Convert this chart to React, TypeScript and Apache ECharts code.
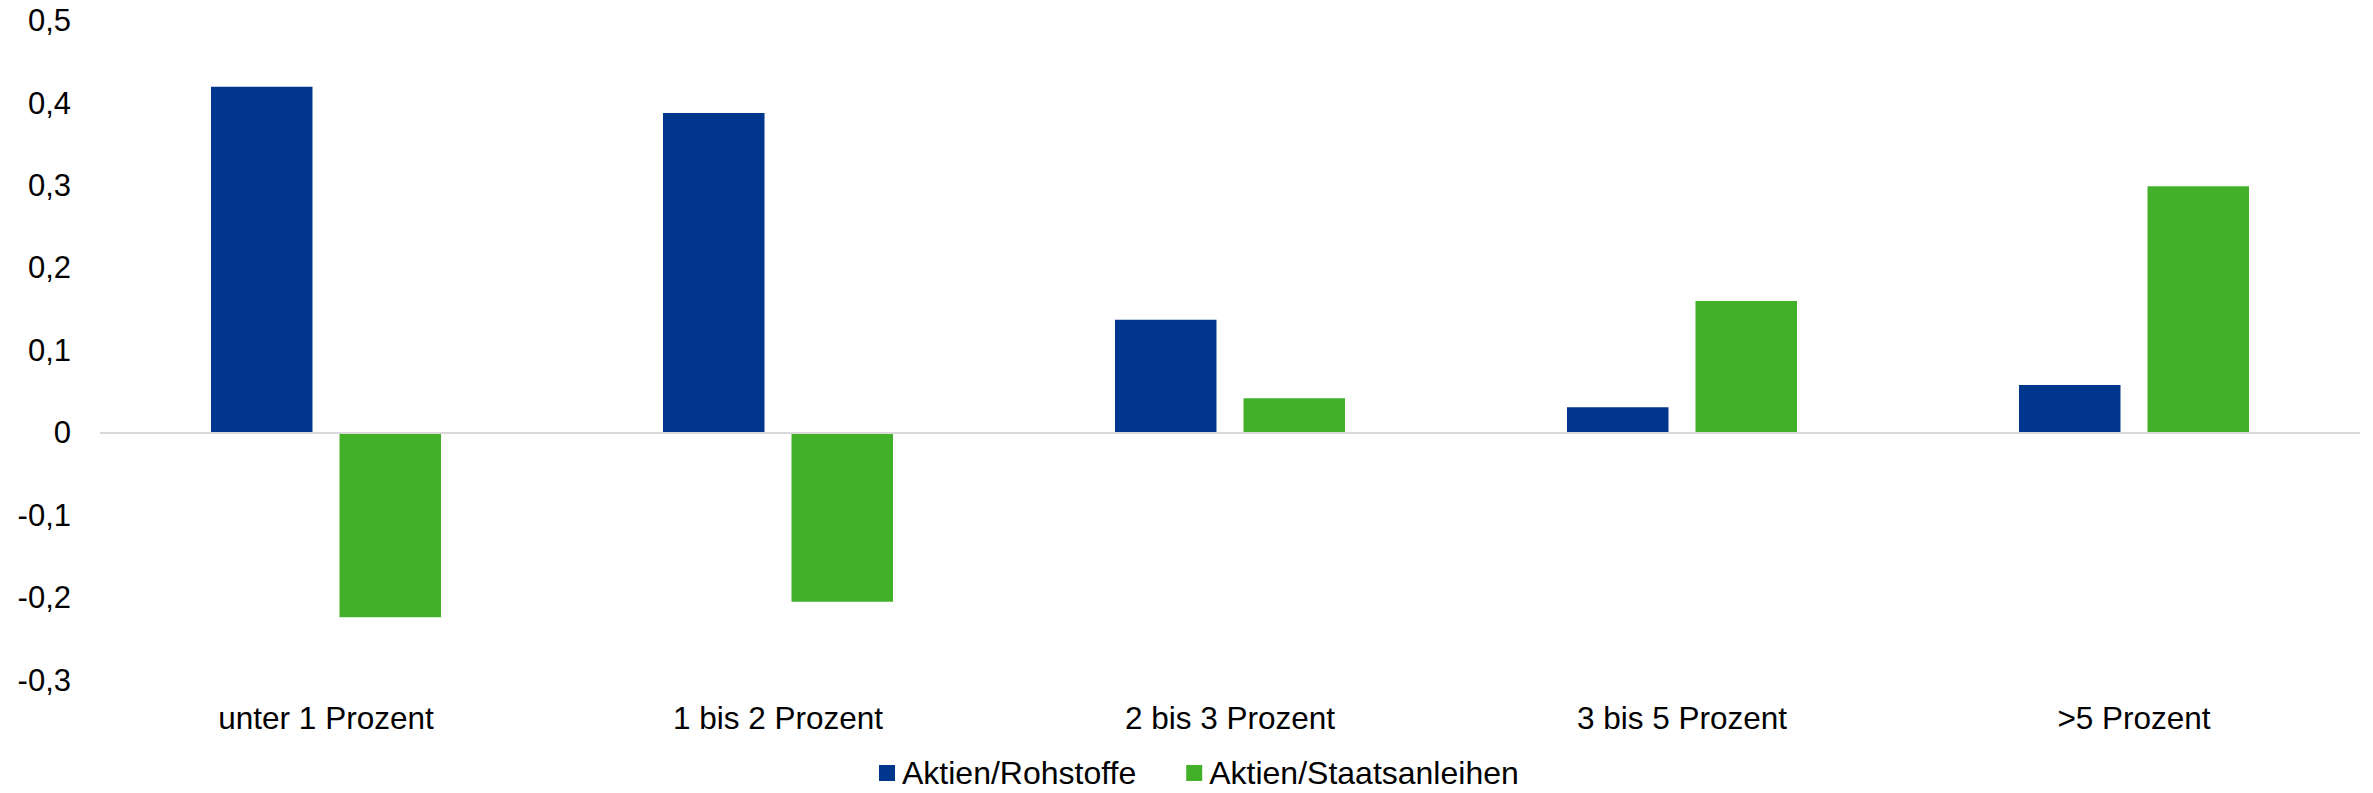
import React, { useEffect, useRef } from "react";
import * as echarts from "echarts";

const categories = ["unter 1 Prozent", "1 bis 2 Prozent", "2 bis 3 Prozent", "3 bis 5 Prozent", ">5 Prozent"];
const aktienRohstoffe = [0.42, 0.388, 0.137, 0.031, 0.058];
const aktienStaatsanleihen = [-0.224, -0.205, 0.042, 0.16, 0.299];
const seriesNames = ["Aktien/Rohstoffe", "Aktien/Staatsanleihen"];
const yTicks = { min: -0.3, max: 0.5, step: 0.1 };

const FONT = "'Liberation Sans', Arial, sans-serif";
const BLUE = "#00368C";
const GREEN = "#43B02A";

function formatTick(v: number): string {
  if (Math.abs(v) < 1e-9) return "0";
  return v.toFixed(1).replace(".", ",");
}

export default function App() {
  const ref = useRef<HTMLDivElement>(null);

  useEffect(() => {
    if (!ref.current) return;
    const chart = echarts.init(ref.current, null, { renderer: "svg" });
    chart.setOption({
      animation: false,
      backgroundColor: "#ffffff",
      grid: { left: 100, right: 13, top: 20.7, bottom: 113, containLabel: false },
      legend: {
        data: seriesNames,
        left: 879,
        top: 757,
        padding: 0,
        itemWidth: 16,
        itemHeight: 16,
        itemGap: 50,
        icon: "rect",
        textStyle: { fontFamily: FONT, fontSize: 32, lineHeight: 32, color: "#000", padding: [0, 0, 0, 2] },
      },
      xAxis: {
        type: "category",
        data: categories,
        axisLine: { show: false, onZero: false },
        axisTick: { show: false },
        axisLabel: { fontFamily: FONT, fontSize: 31.5, color: "#000", margin: 22 },
        splitLine: { show: false },
      },
      yAxis: {
        type: "value",
        min: yTicks.min,
        max: yTicks.max,
        interval: yTicks.step,
        axisLine: { show: false },
        axisTick: { show: false },
        splitLine: { show: false },
        axisLabel: {
          fontFamily: FONT,
          fontSize: 31,
          color: "#000",
          margin: 29,
          formatter: (v: number) => formatTick(v),
        },
      },
      series: [
        {
          name: seriesNames[0],
          type: "bar",
          data: aktienRohstoffe,
          barWidth: 101.5,
          barGap: "26.6%",
          itemStyle: { color: BLUE },
          markLine: {
            silent: true,
            symbol: "none",
            label: { show: false },
            lineStyle: { color: "#D9D9D9", width: 2, type: "solid" },
            data: [{ yAxis: 0 }],
          },
        },
        {
          name: seriesNames[1],
          type: "bar",
          data: aktienStaatsanleihen,
          barWidth: 101.5,
          barGap: "26.6%",
          itemStyle: { color: GREEN },
        },
      ],
    });
    return () => chart.dispose();
  }, []);

  return (
    <div
      ref={ref}
      style={{ position: "fixed", left: 0, top: 0, width: 2373, height: 793, background: "#fff" }}
    />
  );
}
